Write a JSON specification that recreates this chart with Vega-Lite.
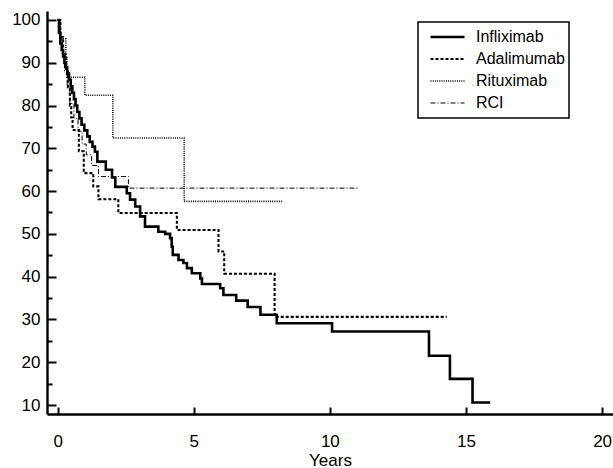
{
  "$schema": "https://vega.github.io/schema/vega-lite/v6.json",
  "width": 566,
  "height": 403,
  "autosize": {"type": "none"},
  "padding": {"left": 47, "top": 11, "right": 0, "bottom": 54},
  "background": "white",
  "config": {
    "view": {"stroke": null},
    "font": "Liberation Sans",
    "axis": {
      "domainColor": "black",
      "domainWidth": 2.4,
      "tickColor": "black",
      "tickWidth": 2,
      "labelColor": "black",
      "labelFont": "Liberation Sans",
      "labelFontSize": 17,
      "titleFont": "Liberation Sans",
      "titleFontSize": 17,
      "titleFontWeight": "normal",
      "titleColor": "black",
      "grid": false
    },
    "legend": {
      "orient": "none",
      "legendX": 371,
      "legendY": 11,
      "strokeColor": "black",
      "padding": 4,
      "symbolType": "stroke",
      "symbolSize": 256,
      "symbolOffset": 7,
      "labelFont": "Liberation Sans",
      "labelFontSize": 16,
      "labelColor": "black",
      "labelOffset": 10,
      "rowPadding": 0,
      "clipHeight": 22
    }
  },
  "data": {
    "values": [
      {"series": "Infliximab", "t": 0, "s": 100},
      {"series": "Infliximab", "t": 0.05, "s": 97},
      {"series": "Infliximab", "t": 0.1, "s": 94.5},
      {"series": "Infliximab", "t": 0.15, "s": 93},
      {"series": "Infliximab", "t": 0.2, "s": 91.5},
      {"series": "Infliximab", "t": 0.25, "s": 90},
      {"series": "Infliximab", "t": 0.3, "s": 89},
      {"series": "Infliximab", "t": 0.35, "s": 87.5},
      {"series": "Infliximab", "t": 0.42, "s": 86},
      {"series": "Infliximab", "t": 0.48, "s": 84.5},
      {"series": "Infliximab", "t": 0.54, "s": 83},
      {"series": "Infliximab", "t": 0.6, "s": 81.5},
      {"series": "Infliximab", "t": 0.66, "s": 80},
      {"series": "Infliximab", "t": 0.72, "s": 78.5},
      {"series": "Infliximab", "t": 0.8, "s": 77},
      {"series": "Infliximab", "t": 0.88, "s": 75.5},
      {"series": "Infliximab", "t": 0.98, "s": 74.2},
      {"series": "Infliximab", "t": 1.09, "s": 72.8},
      {"series": "Infliximab", "t": 1.18, "s": 71.5},
      {"series": "Infliximab", "t": 1.28, "s": 70.4},
      {"series": "Infliximab", "t": 1.37, "s": 69.2},
      {"series": "Infliximab", "t": 1.46, "s": 66.9},
      {"series": "Infliximab", "t": 1.77, "s": 65.0},
      {"series": "Infliximab", "t": 2.0, "s": 63.2},
      {"series": "Infliximab", "t": 2.12, "s": 61.0},
      {"series": "Infliximab", "t": 2.54, "s": 59.5},
      {"series": "Infliximab", "t": 2.66, "s": 58.0},
      {"series": "Infliximab", "t": 2.85, "s": 56.4},
      {"series": "Infliximab", "t": 3.03, "s": 54.1},
      {"series": "Infliximab", "t": 3.21, "s": 51.7},
      {"series": "Infliximab", "t": 3.7, "s": 50.5},
      {"series": "Infliximab", "t": 3.95, "s": 50.0},
      {"series": "Infliximab", "t": 4.13, "s": 49.0},
      {"series": "Infliximab", "t": 4.19, "s": 47.0},
      {"series": "Infliximab", "t": 4.23, "s": 45.1},
      {"series": "Infliximab", "t": 4.44, "s": 43.9},
      {"series": "Infliximab", "t": 4.62, "s": 43.2},
      {"series": "Infliximab", "t": 4.75, "s": 42.0},
      {"series": "Infliximab", "t": 4.93, "s": 40.8},
      {"series": "Infliximab", "t": 5.24, "s": 39.6},
      {"series": "Infliximab", "t": 5.3, "s": 38.3},
      {"series": "Infliximab", "t": 5.97, "s": 37.3},
      {"series": "Infliximab", "t": 6.09, "s": 35.7},
      {"series": "Infliximab", "t": 6.56, "s": 34.4},
      {"series": "Infliximab", "t": 6.98, "s": 32.9},
      {"series": "Infliximab", "t": 7.45, "s": 31.1},
      {"series": "Infliximab", "t": 8.05, "s": 29.1},
      {"series": "Infliximab", "t": 10.08, "s": 27.2},
      {"series": "Infliximab", "t": 13.64, "s": 21.5},
      {"series": "Infliximab", "t": 14.41, "s": 16.1},
      {"series": "Infliximab", "t": 15.24, "s": 10.6},
      {"series": "Infliximab", "t": 15.89, "s": 10.6},
      {"series": "Adalimumab", "t": 0, "s": 100},
      {"series": "Adalimumab", "t": 0.1, "s": 96},
      {"series": "Adalimumab", "t": 0.2, "s": 92},
      {"series": "Adalimumab", "t": 0.3, "s": 88},
      {"series": "Adalimumab", "t": 0.38, "s": 84},
      {"series": "Adalimumab", "t": 0.45, "s": 80},
      {"series": "Adalimumab", "t": 0.5, "s": 77.2},
      {"series": "Adalimumab", "t": 0.55, "s": 74.3},
      {"series": "Adalimumab", "t": 0.78, "s": 69.3},
      {"series": "Adalimumab", "t": 0.96, "s": 64.2},
      {"series": "Adalimumab", "t": 1.31, "s": 61.1},
      {"series": "Adalimumab", "t": 1.5, "s": 58.1},
      {"series": "Adalimumab", "t": 2.23, "s": 54.9},
      {"series": "Adalimumab", "t": 4.38, "s": 50.9},
      {"series": "Adalimumab", "t": 5.91, "s": 45.9},
      {"series": "Adalimumab", "t": 6.12, "s": 40.7},
      {"series": "Adalimumab", "t": 7.97, "s": 30.6},
      {"series": "Adalimumab", "t": 14.29, "s": 30.6},
      {"series": "Rituximab", "t": 0, "s": 100},
      {"series": "Rituximab", "t": 0.1, "s": 95.6},
      {"series": "Rituximab", "t": 0.3, "s": 91.2},
      {"series": "Rituximab", "t": 0.34, "s": 86.6},
      {"series": "Rituximab", "t": 1.0, "s": 82.4},
      {"series": "Rituximab", "t": 2.03, "s": 72.4},
      {"series": "Rituximab", "t": 4.65, "s": 57.6},
      {"series": "Rituximab", "t": 8.24, "s": 57.6},
      {"series": "RCI", "t": 0, "s": 100},
      {"series": "RCI", "t": 0.08, "s": 96},
      {"series": "RCI", "t": 0.16, "s": 92},
      {"series": "RCI", "t": 0.25, "s": 88},
      {"series": "RCI", "t": 0.35, "s": 84},
      {"series": "RCI", "t": 0.45, "s": 80.5},
      {"series": "RCI", "t": 0.6, "s": 77},
      {"series": "RCI", "t": 0.75, "s": 74},
      {"series": "RCI", "t": 0.9, "s": 71},
      {"series": "RCI", "t": 1.05, "s": 68.5},
      {"series": "RCI", "t": 1.25, "s": 66},
      {"series": "RCI", "t": 1.5, "s": 63.4},
      {"series": "RCI", "t": 2.6, "s": 60.7},
      {"series": "RCI", "t": 11.06, "s": 60.7}
    ]
  },
  "resolve": {"axis": {"y": "independent"}},
  "layer": [
    {
      "mark": {"type": "line", "interpolate": "step-after", "clip": true},
      "encoding": {
        "x": {
          "field": "t",
          "type": "quantitative",
          "scale": {"domain": [-0.39, 20.4], "nice": false, "zero": false},
          "axis": {
            "title": "Years",
            "values": [0, 5, 10, 15, 20],
            "tickSize": -7,
            "labelPadding": 26,
            "titlePadding": 3
          }
        },
        "y": {
          "field": "s",
          "type": "quantitative",
          "scale": {"domain": [7.9, 102.1], "nice": false, "zero": false},
          "axis": {
            "title": null,
            "orient": "left",
            "values": [10, 20, 30, 40, 50, 60, 70, 80, 90, 100],
            "tickSize": -9,
            "labelPadding": 16
          }
        },
        "color": {
          "field": "series",
          "type": "nominal",
          "scale": {
            "domain": ["Infliximab", "Adalimumab", "Rituximab", "RCI"],
            "range": ["black", "black", "black", "black"]
          },
          "legend": {
            "title": null,
            "rowPadding": 0,
            "clipHeight": 22,
            "labelExpr": "datum.label + '      '",
            "encode": {
              "symbols": {"update": {"size": {"value": 1156}}},
              "legend": {"update": {"strokeWidth": {"value": 1.5}}}
            }
          }
        },
        "strokeDash": {
          "field": "series",
          "type": "nominal",
          "scale": {
            "domain": ["Infliximab", "Adalimumab", "Rituximab", "RCI"],
            "range": [[1, 0], [3, 2], [1, 1.2], [5, 2, 1, 2]]
          },
          "legend": {
            "title": null,
            "rowPadding": 0,
            "clipHeight": 22,
            "labelExpr": "datum.label + '      '",
            "encode": {
              "symbols": {"update": {"size": {"value": 1156}}},
              "legend": {"update": {"strokeWidth": {"value": 1.5}}}
            }
          }
        },
        "strokeWidth": {
          "field": "series",
          "type": "nominal",
          "scale": {
            "domain": ["Infliximab", "Adalimumab", "Rituximab", "RCI"],
            "range": [2.6, 1, 1, 1]
          },
          "legend": {
            "title": null,
            "rowPadding": 0,
            "clipHeight": 22,
            "labelExpr": "datum.label + '      '",
            "encode": {
              "symbols": {"update": {"size": {"value": 1156}}},
              "legend": {"update": {"strokeWidth": {"value": 1.5}}}
            }
          }
        }
      }
    },
    {
      "mark": {"type": "point", "opacity": 0, "size": 0},
      "encoding": {
        "x": {"field": "t", "type": "quantitative"},
        "y": {
          "field": "s",
          "type": "quantitative",
          "axis": {
            "title": null,
            "orient": "left",
            "values": [15, 25, 35, 45, 55, 65, 75, 85, 95],
            "tickSize": -5,
            "labels": false,
            "domain": false
          }
        }
      }
    }
  ]
}
